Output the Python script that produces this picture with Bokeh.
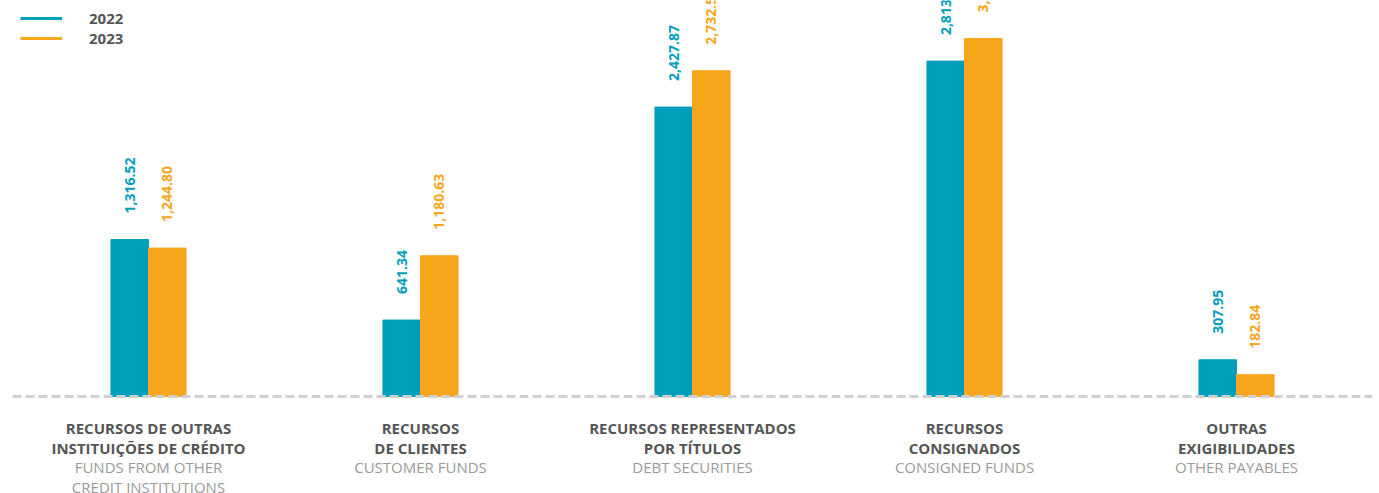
from bokeh.plotting import figure
from bokeh.models import Range1d, ColumnDataSource, Span, Legend, LegendItem
from bokeh.embed import file_html
from bokeh.resources import INLINE
from bokeh.core.properties import value
import math

categories_pt = ["RECURSOS DE OUTRAS\nINSTITUIÇÕES DE CRÉDITO", "RECURSOS\nDE CLIENTES",
                 "RECURSOS REPRESENTADOS\nPOR TÍTULOS", "RECURSOS\nCONSIGNADOS", "OUTRAS\nEXIGIBILIDADES"]
categories_en = ["FUNDS FROM OTHER\nCREDIT INSTITUTIONS", "CUSTOMER FUNDS", "DEBT SECURITIES",
                 "CONSIGNED FUNDS", "OTHER PAYABLES"]
values_2022 = [1316.52, 641.34, 2427.87, 2813.40, 307.95]
values_2023 = [1244.80, 1180.63, 2732.55, 3003.20, 182.84]
series = ["2022", "2023"]

TEAL = "#00A0BC"
ORANGE = "#F8A61C"
FONT = "Open Sans"

xs = list(range(len(categories_pt)))
bw = 0.138

p = figure(width=1379, height=493, output_backend="svg", toolbar_location=None,
           x_range=Range1d(-0.5, 4.5), y_range=Range1d(-814, 3322),
           min_border_left=12, min_border_right=7, min_border_top=0, min_border_bottom=0)
p.xaxis.visible = False
p.yaxis.visible = False
p.xgrid.visible = False
p.ygrid.visible = False
p.outline_line_color = None
p.background_fill_color = "white"

src = ColumnDataSource(dict(
    x22=[x - bw / 2 for x in xs], x23=[x + bw / 2 for x in xs],
    v22=values_2022, v23=values_2023,
    t22=[f"{v:,.2f}" for v in values_2022], t23=[f"{v:,.2f}" for v in values_2023],
    pt=categories_pt, en=categories_en, xc=xs, zero=[0] * len(xs)))

p.vbar(x="x22", top="v22", bottom=0, width=bw, color=TEAL, source=src)
p.vbar(x="x23", top="v23", bottom=0, width=bw, color=ORANGE, source=src)

for xk, vk, tk, col in [("x22", "v22", "t22", TEAL), ("x23", "v23", "t23", ORANGE)]:
    p.text(x=xk, y=vk, text=tk, source=src, angle=math.pi / 2, y_offset=-26,
           text_align="left", text_baseline="middle", text_color=col,
           text_font=value(FONT), text_font_size="14px", text_font_style="bold")

p.add_layout(Span(location=0, dimension="width", line_color="#D0D0D0", line_width=3,
                  line_dash="9 4"))

p.text(x="xc", y="zero", text="pt", source=src, y_offset=22, text_align="center",
       text_baseline="top", text_color="#555555", text_font=value(FONT),
       text_font_size="15px", text_font_style="bold", text_line_height=0.97)
p.text(x="xc", y="zero", text="en", source=src, y_offset=61, text_align="center",
       text_baseline="top", text_color="#9A9A9A", text_font=value(FONT),
       text_font_size="15px", text_line_height=0.97)

nan = float("nan")
l1 = p.line(x=[nan], y=[nan], line_color=TEAL, line_width=3)
l2 = p.line(x=[nan], y=[nan], line_color=ORANGE, line_width=3)
legend = Legend(items=[LegendItem(label=series[0], renderers=[l1]),
                       LegendItem(label=series[1], renderers=[l2])],
                location="top_left", margin=8, padding=0, spacing=0,
                glyph_width=42, glyph_height=20, label_height=20, label_standoff=27,
                label_text_font=FONT, label_text_font_size="15px",
                label_text_font_style="bold", label_text_color="#555555",
                background_fill_alpha=0, border_line_alpha=0)
p.add_layout(legend)

open("out.html", "w").write(file_html(p, INLINE))
